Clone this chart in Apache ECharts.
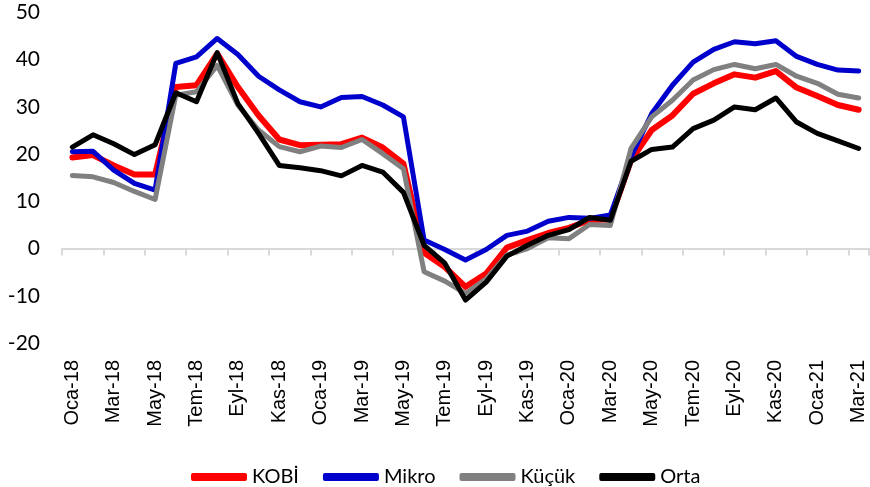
<!DOCTYPE html>
<html>
<head>
<meta charset="utf-8">
<script src="https://cdn.jsdelivr.net/npm/echarts@6/dist/echarts.min.js"></script>
<style>
html,body{margin:0;padding:0;background:#fff;}
#chart{width:870px;height:487px;}
</style>
</head>
<body>
<div id="chart"></div>
<script>
var categories = [
  'Oca-18','Şub-18','Mar-18','Nis-18','May-18','Haz-18','Tem-18','Ağu-18','Eyl-18','Eki-18','Kas-18','Ara-18',
  'Oca-19','Şub-19','Mar-19','Nis-19','May-19','Haz-19','Tem-19','Ağu-19','Eyl-19','Eki-19','Kas-19','Ara-19',
  'Oca-20','Şub-20','Mar-20','Nis-20','May-20','Haz-20','Tem-20','Ağu-20','Eyl-20','Eki-20','Kas-20','Ara-20',
  'Oca-21','Şub-21','Mar-21'
];
var kobi = [19.3, 19.8, 17.6, 15.7, 15.7, 34.2, 34.6, 41.3, 34.2, 28.2, 23.1, 21.9, 22.0, 22.1, 23.5, 21.4, 18.0, -0.9, -3.9, -8.1, -5.3, 0.2, 1.8, 3.3, 4.4, 6.0, 6.2, 18.7, 25.1, 28.2, 32.8, 35.0, 36.9, 36.2, 37.6, 34.1, 32.3, 30.4, 29.4];
var mikro = [20.5, 20.6, 16.6, 13.8, 12.4, 39.2, 40.6, 44.5, 41.1, 36.5, 33.6, 31.1, 30.0, 32.0, 32.2, 30.4, 27.9, 1.8, -0.2, -2.4, -0.2, 2.8, 3.7, 5.8, 6.6, 6.4, 7.1, 19.4, 28.6, 34.6, 39.5, 42.2, 43.8, 43.4, 44.0, 40.7, 39.0, 37.8, 37.6];
var kucuk = [15.5, 15.2, 14.0, 12.1, 10.4, 32.5, 33.2, 38.8, 30.4, 25.1, 21.6, 20.5, 21.7, 21.4, 23.1, 20.1, 16.9, -4.9, -6.9, -9.5, -6.4, -1.4, 0.0, 2.3, 2.1, 5.1, 4.9, 21.2, 27.9, 31.4, 35.7, 37.9, 39.0, 38.1, 39.0, 36.5, 35.0, 32.7, 31.9];
var orta = [21.5, 24.1, 22.2, 19.9, 22.0, 33.0, 31.1, 41.5, 30.7, 24.4, 17.6, 17.1, 16.5, 15.4, 17.6, 16.2, 11.9, 0.7, -3.1, -10.9, -7.1, -1.6, 0.7, 2.8, 4.0, 6.6, 6.0, 18.5, 21.0, 21.5, 25.4, 27.2, 30.0, 29.4, 31.9, 26.8, 24.4, 22.8, 21.2];
var seriesNames = ['KOBİ', 'Mikro', 'Küçük', 'Orta'];
var yTicks = {min: -20, max: 50, interval: 10};

var chart = echarts.init(document.getElementById('chart'), null, {renderer: 'canvas'});
function mk(name, data, color, width) {
  return {
    name: name, type: 'line', data: data, xAxisIndex: 0,
    showSymbol: false, symbol: 'none', smooth: false,
    lineStyle: {color: color, width: width, cap: 'round', join: 'round'},
    itemStyle: {color: color},
    emphasis: {disabled: true}
  };
}
chart.setOption({
  animation: false,
  backgroundColor: '#ffffff',
  grid: {left: 62, right: 1, top: 12.5, bottom: 487 - 343, containLabel: false},
  legend: {
    data: seriesNames,
    left: 186, top: 462,
    icon: 'roundRect',
    itemWidth: 56, itemHeight: 8, itemGap: 24,
    textStyle: {fontFamily: 'Lato', fontSize: 20, color: '#000'}
  },
  xAxis: [
    {
      type: 'category', data: categories, boundaryGap: true,
      axisLine: {onZero: true, lineStyle: {color: '#D9D9D9', width: 2}},
      axisTick: {show: true, interval: 1, length: 7, alignWithLabel: false, lineStyle: {color: '#D9D9D9', width: 2}},
      axisLabel: {show: false},
      splitLine: {show: false}
    },
    {
      type: 'category', data: categories, boundaryGap: true, position: 'bottom',
      axisLine: {show: false, onZero: false},
      axisTick: {show: false},
      axisLabel: {show: true, interval: 1, rotate: 90, margin: 17, fontFamily: 'Liberation Sans', fontSize: 20, color: '#000'},
      splitLine: {show: false}
    }
  ],
  yAxis: {
    type: 'value', min: yTicks.min, max: yTicks.max, interval: yTicks.interval,
    axisLine: {show: false}, axisTick: {show: false}, splitLine: {show: false},
    axisLabel: {margin: 22, fontFamily: 'Lato', fontSize: 21, color: '#000'}
  },
  series: [
    mk(seriesNames[0], kobi, '#FF0000', 6),
    mk(seriesNames[1], mikro, '#0000CC', 5),
    mk(seriesNames[2], kucuk, '#808080', 5),
    mk(seriesNames[3], orta, '#000000', 5)
  ]
});
</script>
</body>
</html>
